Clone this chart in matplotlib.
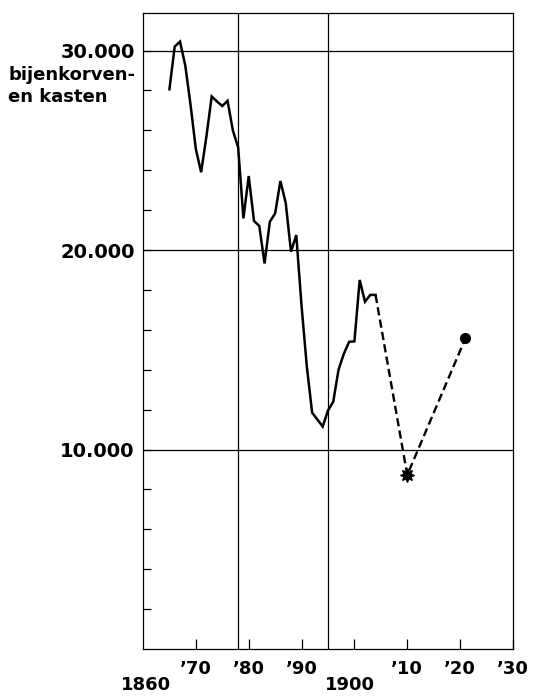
import matplotlib
matplotlib.use('Agg')
import matplotlib.pyplot as plt

# bijenkorven en kasten, jaarlijkse telling (doorgetrokken lijn)
years = list(range(1865, 1905))
hives = [28060, 30200, 30450, 29250, 27270, 25060, 23900, 25700, 27700, 27450,
         27220, 27480, 26000, 25150, 21590, 23710, 21460, 21210, 19330, 21420,
         21840, 23460, 22370, 19920, 20750, 17200, 14150, 11850, 11500, 11150,
         11950, 12400, 14000, 14800, 15400, 15420, 18500, 17410, 17750, 17750]

# losse tellingen (gestippelde lijn)
years_dash = [1904, 1910, 1921]
hives_dash = [17750, 8720, 15570]

xticks = [1870, 1880, 1890, 1900, 1910, 1920, 1930]
xticklabels = ['\u201970', '\u201980', '\u201990', '', '\u201910', '\u201920', '\u201930']
yticks = list(range(2000, 32000, 2000))
ylabels = {10000: '10.000', 20000: '20.000', 30000: '30.000'}
hgrid = [10000, 20000, 30000]
vgrid = [1878, 1895]

plt.rcParams['font.family'] = ['DejaVu Sans']
plt.rcParams['font.weight'] = 'bold'

fig = plt.figure(figsize=(5.36, 6.97), dpi=100)
ax = fig.add_axes([0.2668, 0.0689, 0.957 - 0.2668, 0.9818 - 0.0689])

for y in hgrid:
    ax.axhline(y, color='black', lw=0.9, zorder=1)
for x in vgrid:
    ax.axvline(x, color='black', lw=0.9, zorder=1)

ax.plot(years, hives, color='black', lw=1.8, solid_joinstyle='miter', zorder=3)
ax.plot(years_dash, hives_dash, color='black', lw=1.7, dashes=(3.5, 1.8), zorder=3)
ax.plot(years_dash[1], hives_dash[1], marker=(8, 1, 0), ms=10, color='black', zorder=4)
ax.plot(years_dash[2], hives_dash[2], marker='o', ms=7, color='black', zorder=4)

ax.set_xlim(1860, 1930)
ax.set_ylim(0, 31900)

ax.set_xticks(xticks)
ax.set_xticklabels(xticklabels, fontsize=13)
ax.set_yticks(yticks)
ax.set_yticklabels([ylabels.get(v, '') for v in yticks], fontsize=14)
ax.tick_params(axis='x', direction='in', length=7, width=0.9, pad=8)
ax.tick_params(axis='y', direction='in', length=6, width=0.9, pad=6)

for s in ax.spines.values():
    s.set_linewidth(0.9)

# jaartallen onder de assen
fig.text(146 / 536, 1 - 690 / 697, '1860', ha='center', va='baseline', fontsize=13)
fig.text(350 / 536, 1 - 690 / 697, '1900', ha='center', va='baseline', fontsize=13)

fig.text(8 / 536, 1 - 75 / 697, 'bijenkorven-', ha='left', va='center', fontsize=13)
fig.text(8 / 536, 1 - 97 / 697, 'en kasten', ha='left', va='center', fontsize=13)

fig.savefig('out.png', dpi=100)
